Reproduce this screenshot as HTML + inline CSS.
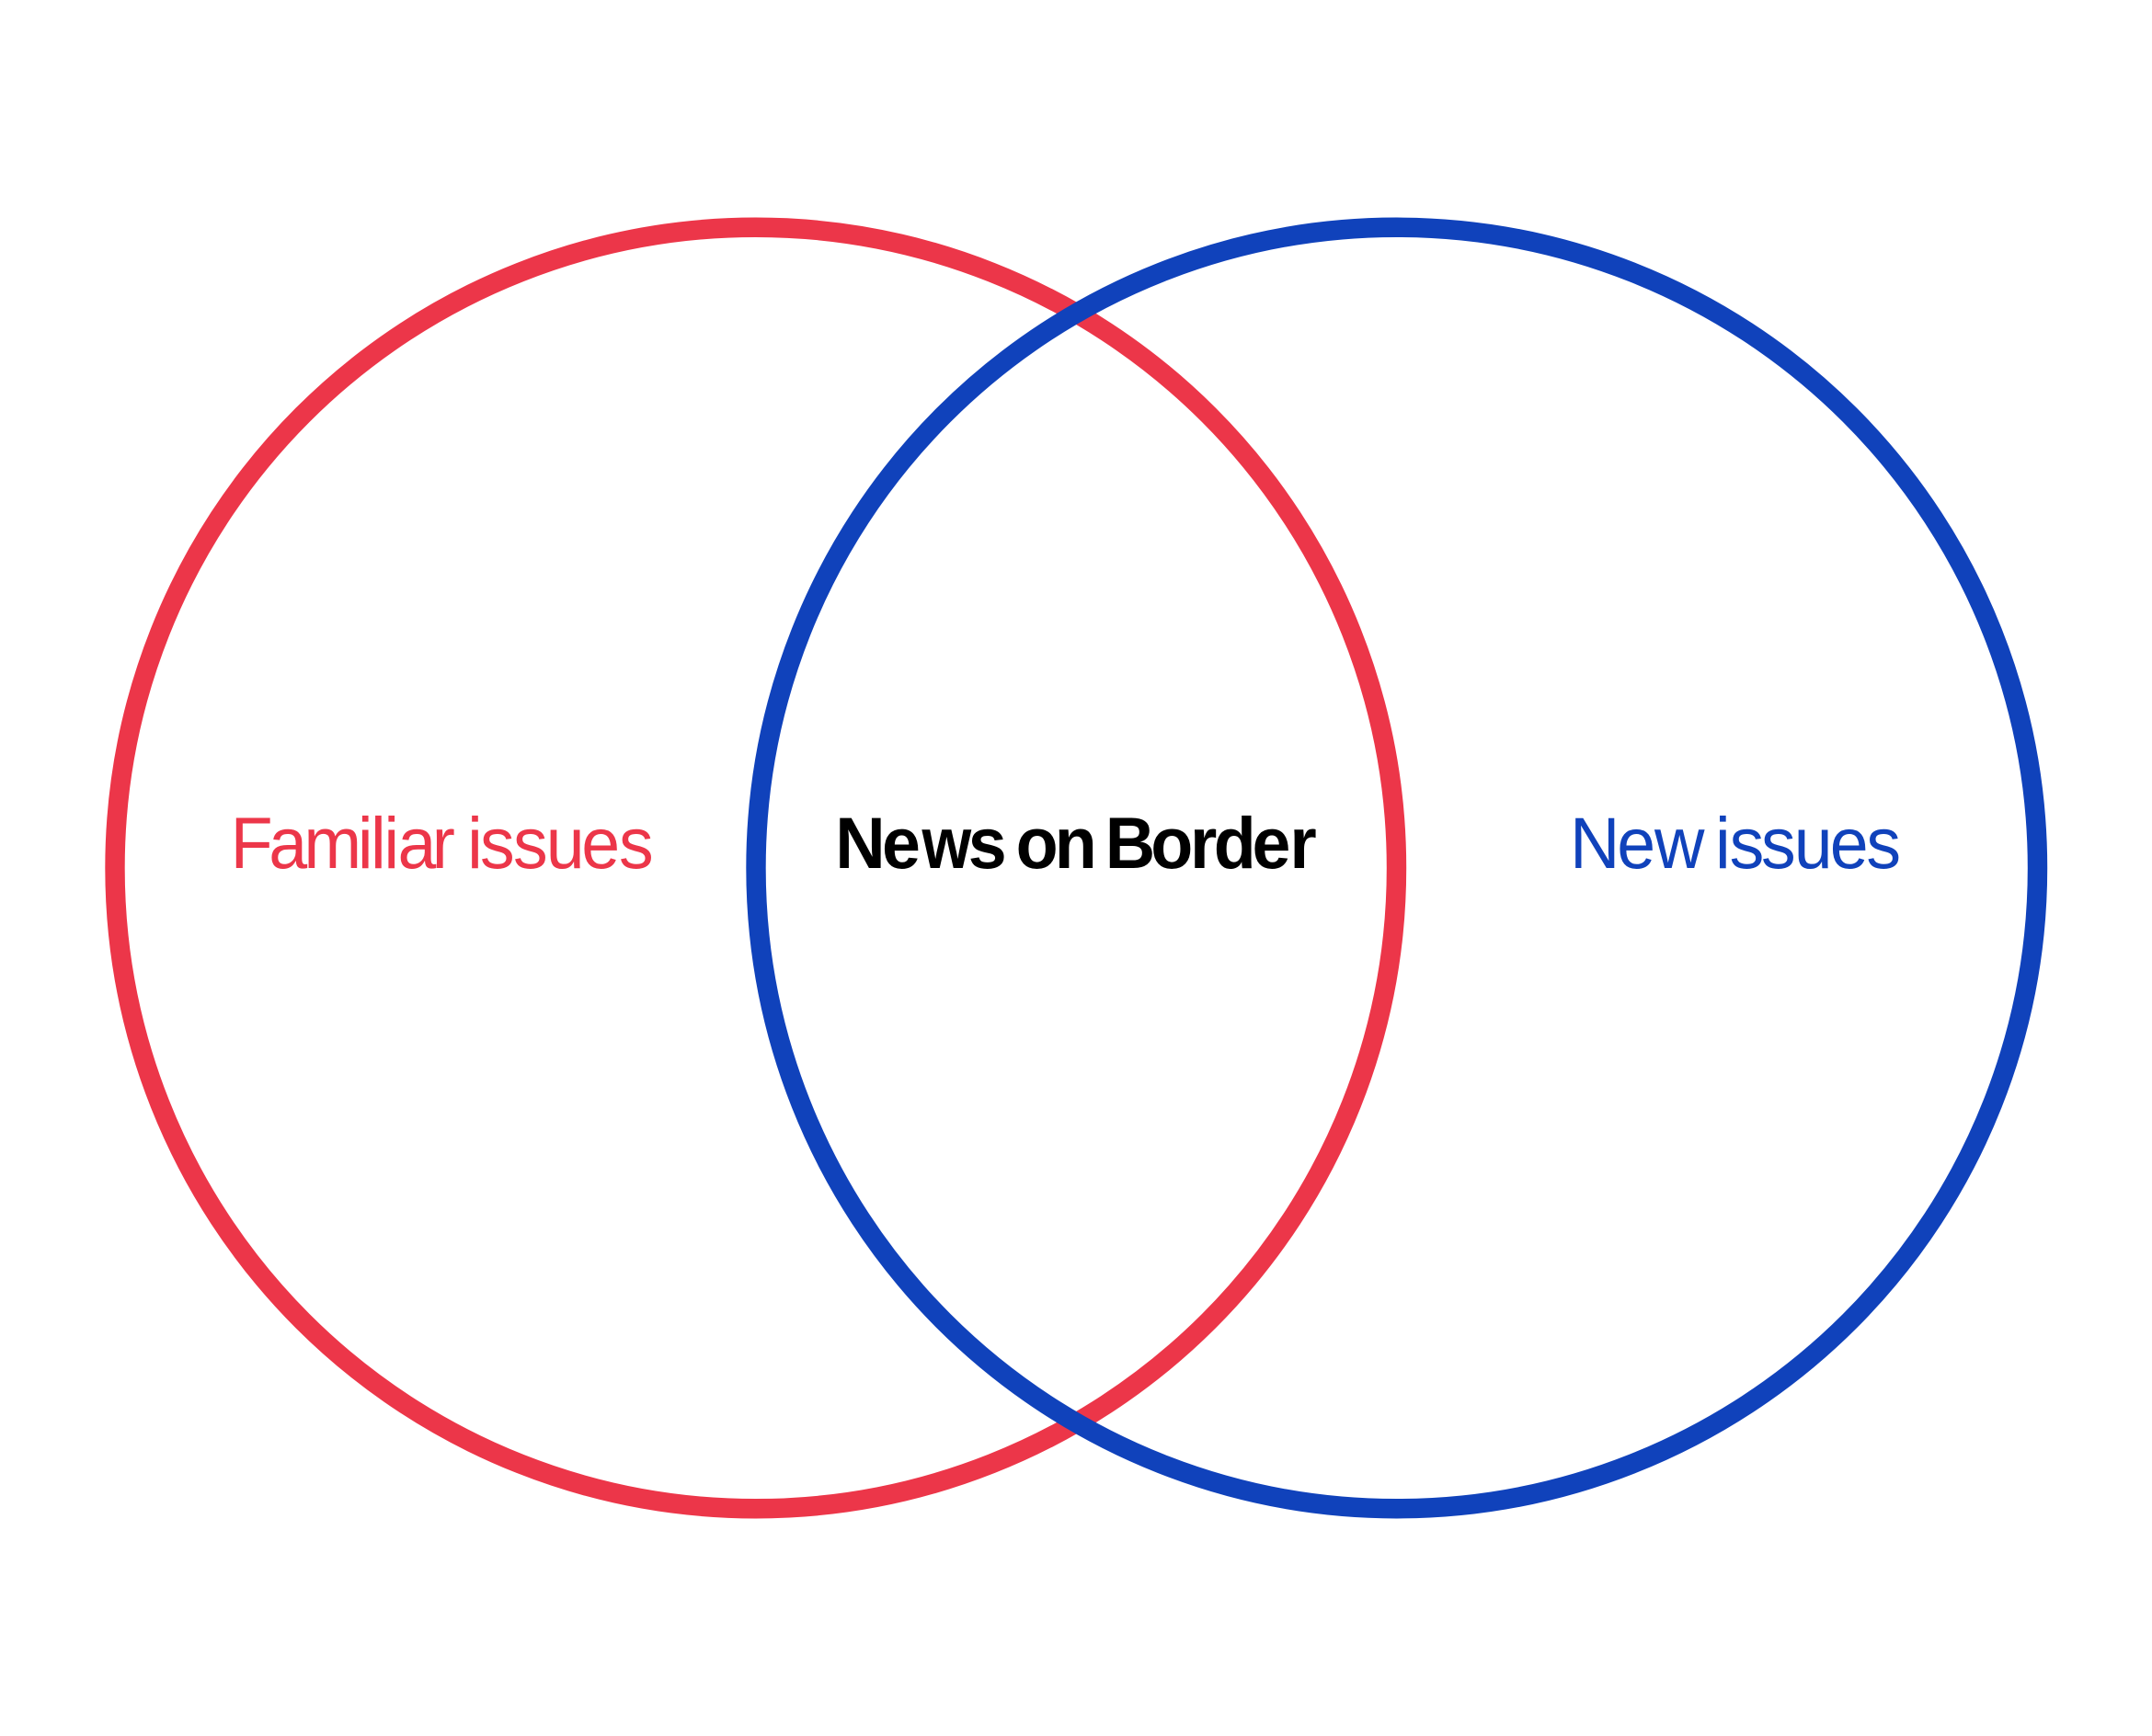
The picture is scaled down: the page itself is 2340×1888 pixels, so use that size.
<!DOCTYPE html>
<html lang="en">
<head>
<meta charset="utf-8">
<title>News on Border</title>
<style>
html,body{margin:0;padding:0;background:#fff;width:2340px;height:1888px;overflow:hidden}
svg{display:block}
text{font-family:"Liberation Sans",Arial,sans-serif;font-size:78.5px;white-space:pre}
.r{fill:#ec3649}
.b{fill:#1042bb}
.k{fill:#000;font-weight:700}
</style>
</head>
<body>
<svg width="2340" height="1888" viewBox="0 0 2340 1888" xmlns="http://www.w3.org/2000/svg">
<rect width="2340" height="1888" fill="#fff"/>
<circle cx="821.75" cy="944" r="696.75" fill="none" stroke="#ec3649" stroke-width="21.4"/>
<circle cx="1518.75" cy="944" r="696.75" fill="none" stroke="#1042bb" stroke-width="21.4"/>
<g transform="scale(.96 1)">
<text class="r" y="944" x="261.1 304.4 344.2 405.1 419.8 434.8 450.5 489.3">Familiar</text>
<text class="r" y="944" x="529.3 543.8 581.3 618.5 658.6 701">issues</text>
<text class="k" y="944" x="946.1 999">Ne</text>
<text class="k" y="944" x="1096.6">s</text>
<text class="k" y="944" x="1150.7 1194.5">on</text>
<text class="k" y="944" x="1251.8 1303.4 1347.9 1374.8 1418.2 1460.8">Border</text>
<text class="b" y="944" x="1778.1 1831.5 1874">New</text>
<text class="b" y="944" x="1942.7 1959 1994.8 2032 2072.6 2114">issues</text>
</g>
<text class="k" y="944" x="1139.2" transform="scale(.88 1)">w</text>
</svg>
</body>
</html>
